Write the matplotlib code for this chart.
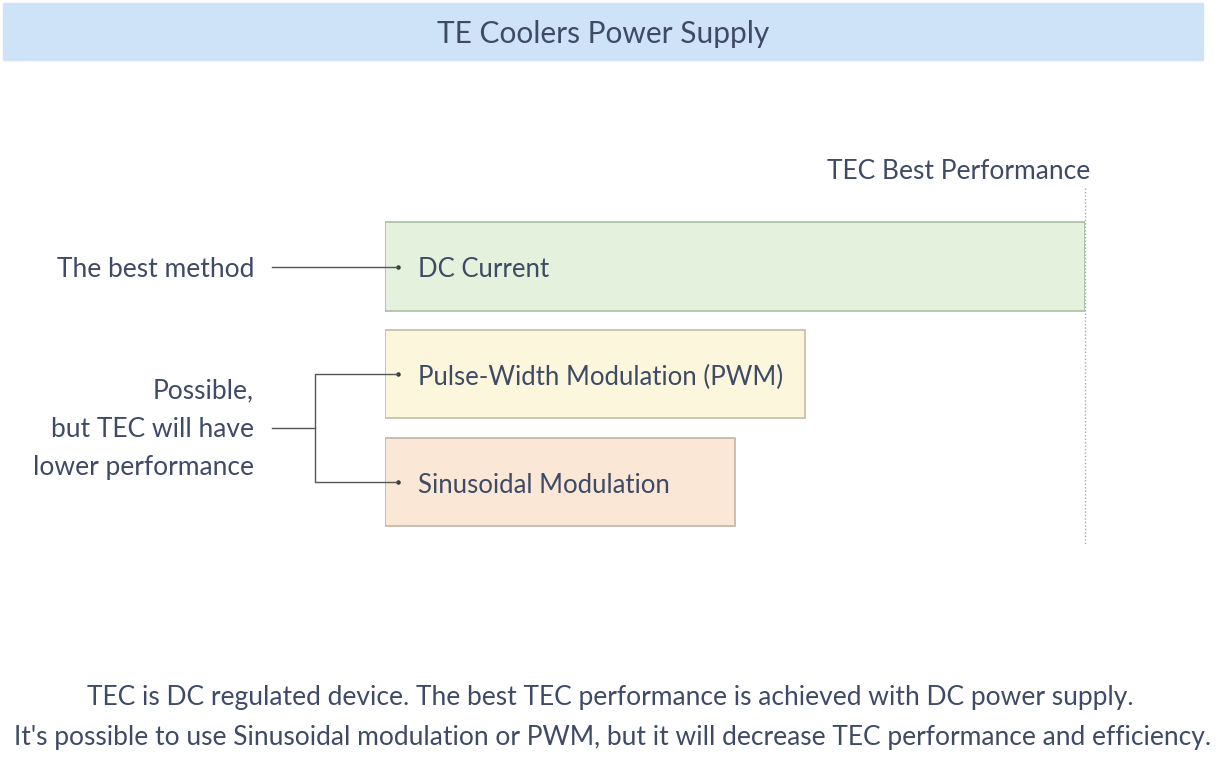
import matplotlib.pyplot as plt
from matplotlib.patches import Rectangle

plt.rcParams['font.family'] = ['Lato', 'DejaVu Sans']

# data
methods = ['DC Current', 'Pulse-Width Modulation (PWM)', 'Sinusoidal Modulation']
performance = [100, 60, 50]   # relative to best TEC performance
fills = ['#e3f1dd', '#fbf6dc', '#fbe7d5']
edges = ['#a8bfa2', '#c4bea6', '#c4b3a6']
left_notes = ['The best method', 'Possible,\nbut TEC will have\nlower performance']
footer = ['TEC is DC regulated device. The best TEC performance is achieved with DC power supply.',
          "It's possible to use Sinusoidal modulation or PWM, but it will decrease TEC performance and efficiency."]

txt = '#3e4a66'
W, H = 1220, 761

fig = plt.figure(figsize=(12.2, 7.61), dpi=100)
fig.patches.append(Rectangle((3 / W, 1 - 60 / H), 1200 / W, 57 / H,
                             transform=fig.transFigure, color='#cfe3f8', zorder=0))
fig.text(603 / W, 1 - 34 / H, 'TE Coolers Power Supply', ha='center', va='center',
         fontsize=21.5, color=txt)

ax = fig.add_axes([385 / W, 0.2675, 700 / W, 0.4955])
y = range(len(methods))
ax.barh(y, performance, height=0.82, left=0, color=fills, edgecolor=edges, linewidth=1.2)
ax.set_xlim(0, max(performance))
ax.set_ylim(2.7, -0.8)
ax.axis('off')

for i, m in enumerate(methods):
    ax.text(4.7, i + 0.03, m, ha='left', va='center', fontsize=18.5, color=txt)
    ax.plot(1.9, i, 'o', ms=2.2, color='#333333')

# best performance marker
best = max(performance)
ax.plot([best, best], [-0.73, 2.58], ls=(0, (1, 1.5)), color='#9bb0a8', lw=1, clip_on=False)
ax.text(best + 0.7, -0.88, 'TEC Best Performance', ha='right', va='center',
        fontsize=19, color=txt)

# left notes and connectors
lc = '#555555'
ax.text(-18.7, 0.03, left_notes[0], ha='right', va='center', fontsize=19, color=txt)
ax.plot([-16.1, 1.9], [0, 0], color=lc, lw=1, clip_on=False)
ax.text(-18.7, 1.51, left_notes[1], ha='right', va='center', fontsize=19, color=txt,
        linespacing=1.68, multialignment='right')
ax.plot([-16.1, -10], [1.5, 1.5], color=lc, lw=1, clip_on=False)
ax.plot([1.9, -10, -10, 1.9], [1, 1, 2, 2], color=lc, lw=1, clip_on=False)

fig.text(610 / W, 1 - 698 / H, footer[0], ha='center', va='center', fontsize=19, color=txt)
fig.text(613 / W, 1 - 738 / H, footer[1], ha='center', va='center', fontsize=19, color=txt)

fig.savefig('out.png', dpi=100, facecolor='white')
